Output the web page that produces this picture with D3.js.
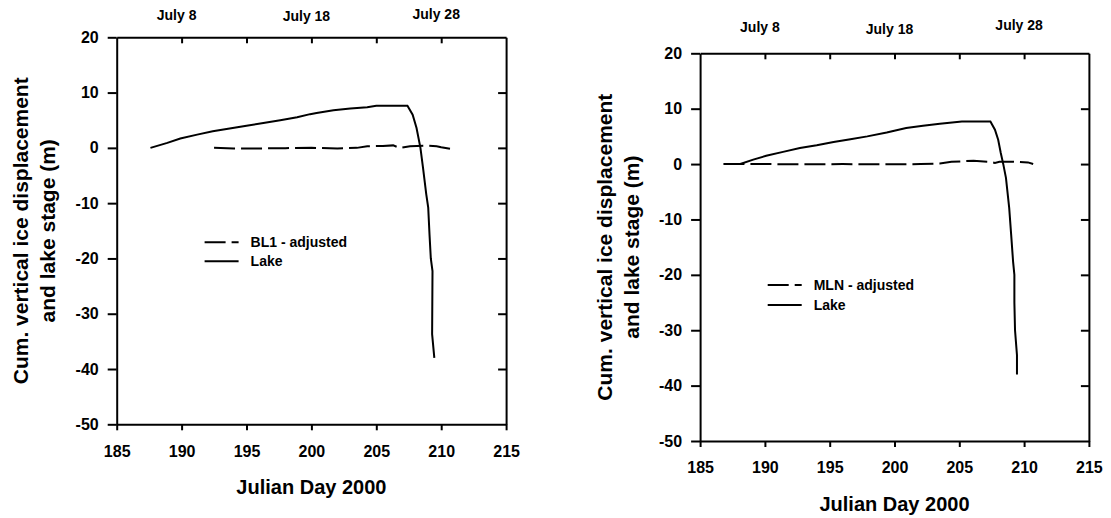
<!DOCTYPE html>
<html><head><meta charset="utf-8">
<script src="https://cdn.jsdelivr.net/npm/d3@7"></script>
<style>
body{margin:0;background:#fff}
svg{display:block}
text{font-family:"Liberation Sans",Arial,sans-serif;font-weight:bold;fill:#000}
</style>
</head><body>
<svg id="c" width="1111" height="518"></svg>
<script>
// ---- data ----
const xTicks = [185, 190, 195, 200, 205, 210, 215];
const yTicks = [20, 10, 0, -10, -20, -30, -40, -50];
const dateLabels = ["July 8", "July 18", "July 28"];
const dateDays = [190, 200, 210];

const lakeLeftDays  = [187.6, 188.9, 189.9, 191.2, 192.4, 193.7, 195.0, 196.3, 197.6, 198.9, 199.9, 200.4, 201.7, 203.0, 204.3, 205.0, 207.4, 207.8, 208.1, 208.4, 208.6, 208.85, 209.0, 209.1, 209.2, 209.33, 209.3, 209.47];
const lakeLeftStage = [0, 0.9, 1.7, 2.4, 3.0, 3.5, 4.0, 4.5, 5.0, 5.55, 6.1, 6.3, 6.8, 7.1, 7.35, 7.6, 7.6, 6.0, 3.6, 0, -3.6, -8.4, -10.8, -15.7, -20, -22.3, -33.7, -38.0];

const bl1Days = [192.5, 194, 196, 198, 200, 202, 203.5, 204.3, 205.5, 206.3, 206.8, 207.6, 208.9, 209.65, 210.0, 210.8];
const bl1Disp = [0, -0.1, -0.1, -0.05, 0, -0.1, 0, 0.3, 0.35, 0.45, 0, 0.3, 0.4, 0.3, 0.1, -0.2];

const lakeRightDays  = [188.1, 189.1, 190.1, 191.4, 192.7, 194.0, 195.3, 196.6, 197.9, 199.4, 200.9, 202.2, 203.5, 205.2, 207.4, 207.75, 208.0, 208.2, 208.4, 208.6, 208.85, 209.0, 209.15, 209.25, 209.25, 209.3, 209.45, 209.45];
const lakeRightStage = [0, 0.8, 1.5, 2.2, 2.9, 3.4, 4.0, 4.5, 5.0, 5.7, 6.5, 6.9, 7.3, 7.7, 7.7, 6.2, 4.4, 2.0, -0.1, -2.5, -7.9, -12.7, -17.6, -20, -25, -30.0, -34.5, -38.0];

const mlnDays = [186.8, 190, 193, 196, 199, 202, 203.5, 204.4, 206.1, 207.4, 207.75, 208.1, 209.2, 210.3, 210.7];
const mlnDisp = [0, 0, -0.05, 0, -0.05, 0, 0.1, 0.4, 0.6, 0.4, 0.2, 0.4, 0.4, 0.3, 0];

const stationNames = ["BL1 - adjusted", "MLN - adjusted"];
const lakeName = "Lake";
const xTitle = "Julian Day 2000";
const yTitle = ["Cum. vertical ice displacement", "and lake stage (m)"];

// ---- layout ----
const panels = [
  {left: 116.7, top: 37.3, width: 389.4, height: 387,
   lakeX: lakeLeftDays, lakeY: lakeLeftStage, stX: bl1Days, stY: bl1Disp, name: stationNames[0],
   legX: 204.6, legY: 242.3, legGap: 19, dateY: [15, 16, 14], yTitleX: [20.5, 47]},
  {left: 700.1, top: 53.3, width: 388.8, height: 387.7,
   lakeX: lakeRightDays, lakeY: lakeRightStage, stX: mlnDays, stY: mlnDisp, name: stationNames[1],
   legX: 767.7, legY: 285, legGap: 20, dateY: [26.7, 29.3, 25], yTitleX: [604.7, 631]}
];

const svg = d3.select("#c");
const dash = "21,6";
const fmt = d => String(d);

panels.forEach(p => {
  const x = d3.scaleLinear().domain([185, 215]).range([p.left, p.left + p.width]);
  const y = d3.scaleLinear().domain([-50, 20]).range([p.top + p.height, p.top]);
  const g = svg.append("g");

  const styleAxis = a => {
    a.selectAll("path.domain").attr("stroke", "#000").attr("stroke-width", 2);
    a.selectAll(".tick line").attr("stroke", "#000").attr("stroke-width", 2);
  };

  const ax1 = g.append("g").attr("transform", `translate(0,${p.top + p.height})`)
    .call(d3.axisBottom(x).tickValues(xTicks).tickFormat(fmt).tickSize(6).tickPadding(15).tickSizeOuter(0));
  ax1.selectAll("text").style("font-size", "16px");
  styleAxis(ax1);

  const ax2 = g.append("g").attr("transform", `translate(${p.left},0)`)
    .call(d3.axisLeft(y).tickValues(yTicks).tickFormat(fmt).tickSize(9).tickPadding(9).tickSizeOuter(0));
  ax2.selectAll("text").style("font-size", "16px");
  styleAxis(ax2);

  const ax3 = g.append("g").attr("transform", `translate(0,${p.top})`)
    .call(d3.axisTop(x).tickValues(xTicks.slice(1, -1)).tickSize(-6).tickSizeOuter(0).tickFormat(""));
  styleAxis(ax3);

  const ax4 = g.append("g").attr("transform", `translate(${p.left + p.width},0)`)
    .call(d3.axisRight(y).tickValues(yTicks.slice(1, -1)).tickSize(-8).tickSizeOuter(0).tickFormat(""));
  styleAxis(ax4);

  // date labels on top
  g.selectAll("text.date").data(dateLabels).join("text").attr("class", "date")
    .attr("x", (d, i) => x(dateDays[i]) - 5)
    .attr("y", (d, i) => p.dateY[i] + 5)
    .attr("text-anchor", "middle").style("font-size", "14px").text(d => d);

  // axis titles
  g.append("text").attr("x", p.left + p.width / 2).attr("y", p.top + p.height + 70)
    .attr("text-anchor", "middle").style("font-size", "20px").text(xTitle);
  yTitle.forEach((t, i) => {
    g.append("text").attr("transform", `translate(${p.yTitleX[i]},${p.top + p.height / 2}) rotate(-90)`)
      .attr("text-anchor", "middle").attr("dominant-baseline", "central")
      .style("font-size", "21px").text(t);
  });

  const line = d3.line().x(d => x(d[0])).y(d => y(d[1]));
  const stPts = p.stX.map((d, i) => [d, p.stY[i]]);
  const lakePts = p.lakeX.map((d, i) => [d, p.lakeY[i]]);

  g.append("path").datum(stPts).attr("d", line).attr("fill", "none")
    .attr("stroke", "#000").attr("stroke-width", 2).attr("stroke-dasharray", dash);
  g.append("path").datum(lakePts).attr("d", line).attr("fill", "none")
    .attr("stroke", "#000").attr("stroke-width", 2);

  // legend
  const lg = g.append("g");
  [[p.name, dash], [lakeName, null]].forEach((e, i) => {
    const yy = p.legY + i * p.legGap;
    lg.append("line").attr("x1", p.legX).attr("x2", p.legX + 34).attr("y1", yy).attr("y2", yy)
      .attr("stroke", "#000").attr("stroke-width", 2).attr("stroke-dasharray", e[1]);
    lg.append("text").attr("x", p.legX + 46).attr("y", yy).attr("dominant-baseline", "central")
      .style("font-size", "14px").text(e[0]);
  });
});
</script>
</body></html>
